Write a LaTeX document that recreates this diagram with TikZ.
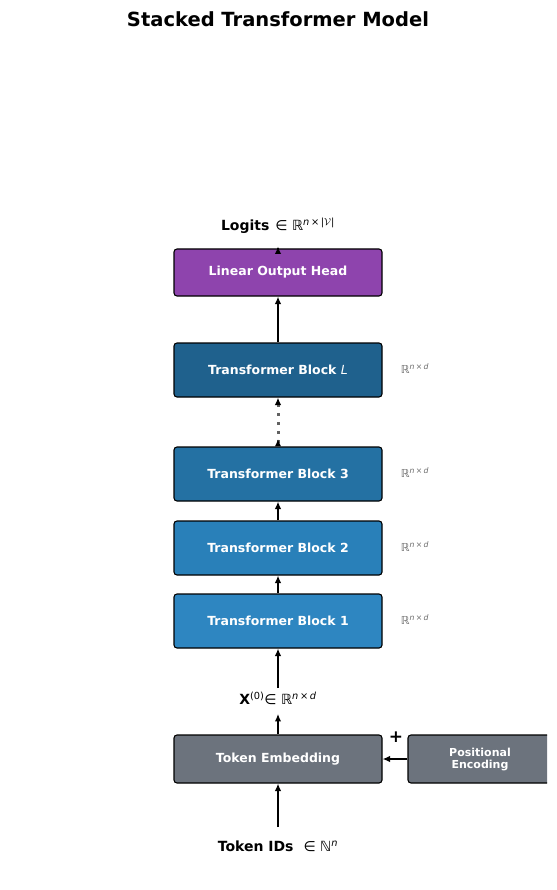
\documentclass[tikz,border=0pt]{standalone}
\usepackage{fontspec}
\setmainfont{DejaVu Sans}
\usepackage{amssymb}
\usetikzlibrary{arrows.meta}
\definecolor{stkpurple}{HTML}{8E44AD}
\definecolor{stkblueA}{HTML}{2E86C1}
\definecolor{stkblueB}{HTML}{2980B9}
\definecolor{stkblueC}{HTML}{2471A3}
\definecolor{stkblueD}{HTML}{1F618D}
\definecolor{stkgray}{HTML}{6C737D}
\newcommand{\stkspace}[1]{ℝ\textsuperscript{#1}}
\tikzset{stkblk/.style={draw=black,line width=1.1pt,rounded corners=3pt,minimum width=208pt,inner sep=0pt,
           text=white,font=\bfseries\fontsize{12.5}{14}\selectfont},
         stkarr/.style={-{Latex[length=7.5pt,width=6.5pt]},line width=1.4pt},
         stkdim/.style={text=black!58,font=\fontsize{11}{13}\selectfont},
         stklab/.style={font=\fontsize{14}{16}\selectfont}}

\begin{document}
\begin{tikzpicture}[x=1pt,y=-1pt]
    \useasboundingbox (0,0) rectangle (556,890);
    \clip (0,0) rectangle (547,890);
    \node[font=\bfseries\fontsize{19.5}{22}\selectfont] (title) at (278,19) {Stacked Transformer Model};
    \node[stkblk,fill=stkpurple,minimum height=47pt] (head) at (278,272.5) {Linear Output Head};
    \foreach \y/\n/\c/\t in {621/b1/stkblueA/1,548/b2/stkblueB/2,474/b3/stkblueC/3,370/bL/stkblueD/{\mdseries\itshape L}}
      {\node[stkdim] (d\n) at (415,\y-1) {\stkspace{\textit{n}\,×\,\textit{d}}};
       \node[stkblk,fill=\c,minimum height=54pt] (\n) at (278,\y) {Transformer Block \t};}
    \node[stkblk,fill=stkgray,minimum height=48pt] (emb) at (278,759) {Token Embedding};
    \node[stkblk,fill=stkgray,minimum height=48pt,minimum width=144pt,align=center,
          font=\bfseries\fontsize{11}{12}\selectfont] (pos) at (480,759) {Positional\\Encoding};
    \node[stklab] (ids) at (278,846) {\textbf{Token IDs}\hspace{10pt}∈ ℕ\textsuperscript{\textit{n}}};
    \node[stklab] (x0) at (278,698) {\textbf{X}\textsuperscript{(0)}∈ \stkspace{\textit{n}\,×\,\textit{d}}};
    \node[stklab] (logits) at (278,226) {\textbf{Logits}\hspace{6pt}∈ \stkspace{\textit{n}\,×\,|$\mathcal{V}$|}};
    \node[font=\bfseries\fontsize{17}{18}\selectfont] (plus) at (396,737) {+};
    \draw[stkarr,shorten <=10pt] (ids) -- (emb);
    \draw[stkarr,shorten >=6pt] (emb) -- (x0);
    \draw[stkarr] (x0) -- (b1);
    \draw[stkarr] (b1) -- (b2); \draw[stkarr] (b2) -- (b3);
    \draw[line width=3pt,black!62,dash pattern=on 3pt off 6pt,
          {Latex[reversed,black,length=7.5pt,width=6.5pt]}-{Latex[black,length=7.5pt,width=6.5pt]}] (b3) -- (bL);
    \draw[stkarr,shorten >=9pt] (head) -- (logits);
    \draw[stkarr] (bL) -- (head);
    \draw[stkarr] (pos) -- (emb);
  \end{tikzpicture}
\end{document}
